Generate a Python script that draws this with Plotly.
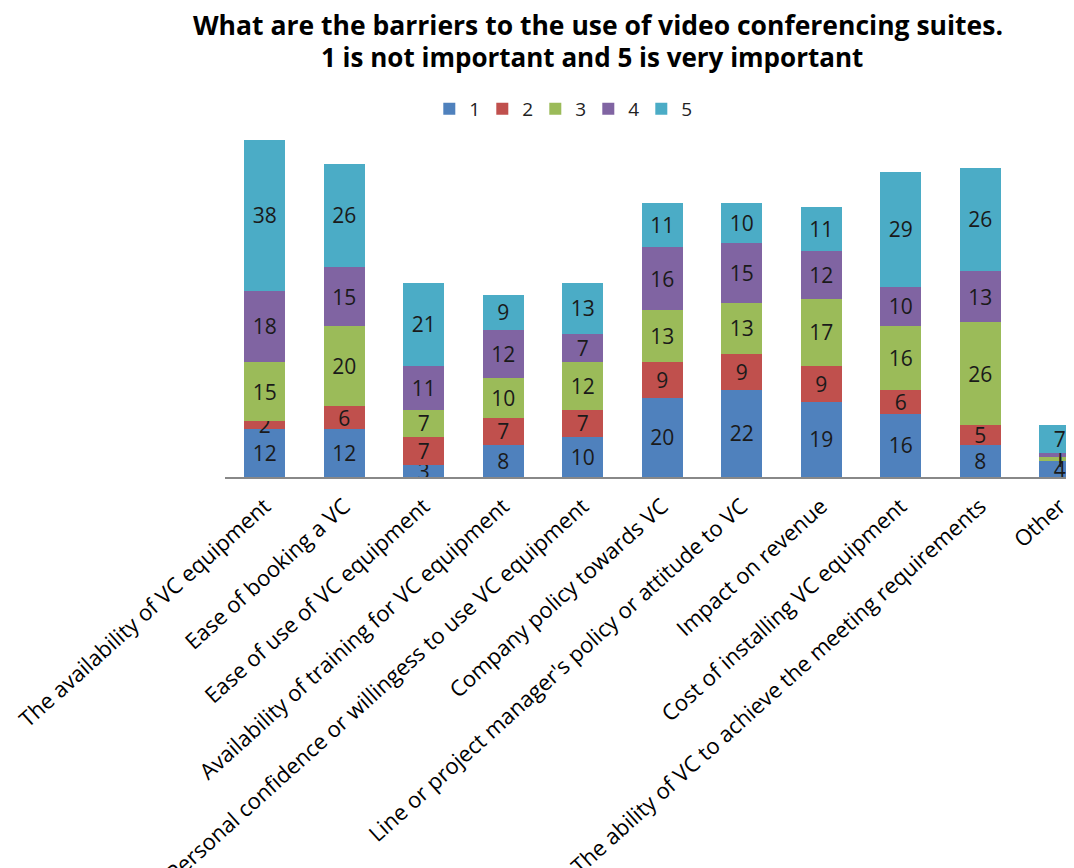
import plotly.graph_objects as go

categories = [
    "The availability of VC equipment",
    "Ease of booking a VC",
    "Ease of use of VC equipment",
    "Availability of training for VC equipment",
    "Personal confidence or willingess to use VC equipment",
    "Company policy towards VC",
    "Line or project manager's policy or attitude to VC",
    "Impact on revenue",
    "Cost of installing VC equipment",
    "The ability of VC to achieve the meeting requirements",
    "Other",
]
series_names = ["1", "2", "3", "4", "5"]
s1 = [12, 12, 3, 8, 10, 20, 22, 19, 16, 8, 4]
s2 = [2, 6, 7, 7, 7, 9, 9, 9, 6, 5, 0]
s3 = [15, 20, 7, 10, 12, 13, 13, 17, 16, 26, 1]
s4 = [18, 15, 11, 12, 7, 16, 15, 12, 10, 13, 1]
s5 = [38, 26, 21, 9, 13, 11, 10, 11, 29, 26, 7]
colors = ["#4F81BD", "#C0504D", "#9BBB59", "#8064A2", "#4BACC6"]
title_line1 = "What are the barriers to the use of video conferencing suites."
title_line2 = "1 is not important and 5 is very important"

FONT = "Open Sans"
W, H = 1074, 868
ML, MT, MB = 217, 122, 399

fig = go.Figure()
for name, vals, col in zip(series_names, [s1, s2, s3, s4, s5], colors):
    fig.add_trace(go.Bar(
        x=categories, y=vals, name=name,
        marker=dict(color=col, line=dict(width=0)),
        text=[str(v) for v in vals],
        textposition="inside", insidetextanchor="middle",
        textangle=0, constraintext="none",
        textfont=dict(family=FONT, size=21, color="#1a1a1a"),
    ))

fig.update_layout(
    barmode="stack",
    bargap=0.485,
    width=W, height=H,
    margin=dict(l=ML, r=0, t=MT, b=MB, autoexpand=False),
    paper_bgcolor="white", plot_bgcolor="white",
    title=dict(
        text="<b>" + title_line1 + "</b>",
        x=590 / W, xanchor="center", y=1 - 18 / H, yanchor="middle",
        font=dict(family=FONT, size=26.5, color="black"),
    ),
    legend=dict(
        orientation="h", x=0.393, xanchor="center", y=1.0605, yanchor="middle",
        font=dict(family=FONT, size=19, color="#222222"),
        traceorder="normal", itemwidth=30,
        entrywidth=8, entrywidthmode="pixels",
    ),
    xaxis=dict(
        range=[-0.5, 10.28], showline=True, linecolor="#888888", linewidth=2,
        ticks="", tickangle=-42, automargin=False,
        tickfont=dict(family=FONT, size=22, color="black"),
        ticklabelstandoff=6,
    ),
    yaxis=dict(visible=False, range=[0, 87.5], showgrid=False, automargin=False),
)

plot_h = H - MT - MB
fig.add_annotation(
    text="<b>" + title_line2 + "</b>",
    xref="paper", yref="paper",
    x=(584 - ML) / (W - ML), y=(H - MB - 49) / plot_h,
    xanchor="center", yanchor="middle", showarrow=False,
    font=dict(family=FONT, size=26, color="black"),
)

fig.write_html("out.html")
